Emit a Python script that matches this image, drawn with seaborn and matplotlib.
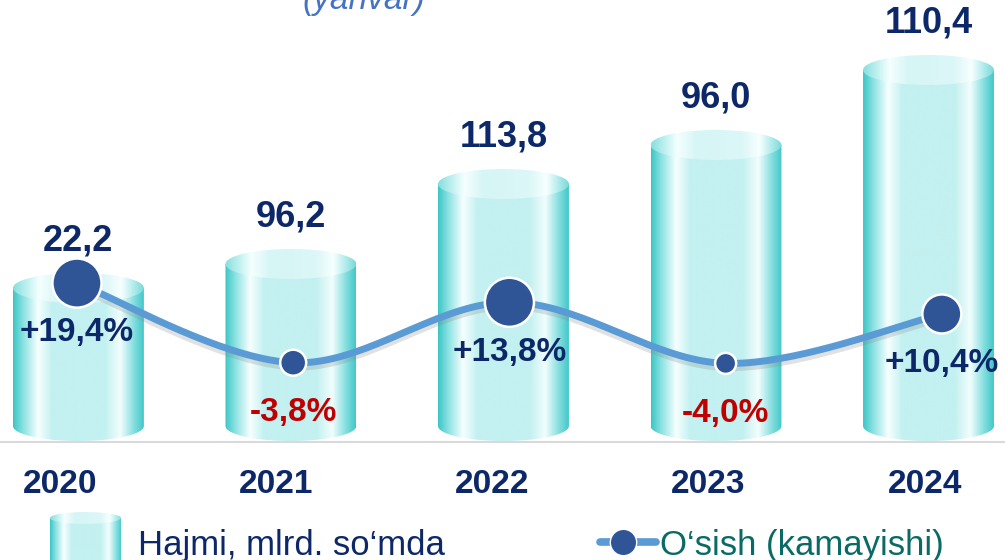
import numpy as np
import pandas as pd
import matplotlib.pyplot as plt
import seaborn as sns
from matplotlib.colors import LinearSegmentedColormap
from matplotlib.patches import Polygon, Ellipse
from matplotlib.lines import Line2D
import matplotlib.patheffects as pe

# Data
years = ['2020', '2021', '2022', '2023', '2024']
volume = [22.2, 96.2, 113.8, 96.0, 110.4]          # printed values, mlrd. so'm
bar_heights = [138, 162, 242, 281, 356]            # drawn cylinder heights (pictorial, not to scale)
growth = [19.4, -3.8, 13.8, -4.0, 10.4]            # O'sish (kamayishi), %

# Styles
NAVY = '#0D2869'
RED = '#C00000'
LINE_BLUE = '#5B9BD5'
DOT_BLUE = '#2F5597'
TEAL_TEXT = '#0A6B66'
BAR_W = 0.616
RY = 15
marker_area = [1250, 350, 1250, 230, 790]

sns.set_theme(style='white')
plt.rcParams['font.family'] = ['Liberation Sans', 'DejaVu Sans']

body_cmap = LinearSegmentedColormap.from_list('body', [
    (0.0, '#3CC6C6'), (0.07, '#84DFDF'), (0.19, '#F7FFFF'), (0.3, '#C3F0F0'),
    (0.7, '#C3F0F0'), (0.82, '#F2FDFD'), (0.92, '#8AE0E0'), (1.0, '#42C8C8')])
top_cmap = LinearSegmentedColormap.from_list('top', [
    (0.0, '#86DFDF'), (0.2, '#F5FFFF'), (0.35, '#D6F5F5'), (0.7, '#DCF7F7'),
    (0.83, '#F7FFFF'), (1.0, '#78DADA')])
grad = np.linspace(0, 1, 256).reshape(1, -1)


def cylinder(ax, xc, w, h, ry, bottom=0):
    x0, x1 = xc - w / 2, xc + w / 2
    t = np.linspace(np.pi, 2 * np.pi, 60)
    arc = np.column_stack([xc + w / 2 * np.cos(t), bottom + ry * np.sin(t)])
    verts = np.vstack([[x0, h], [x0, bottom], arc, [x1, bottom], [x1, h]])
    body = Polygon(verts, closed=True, fc='none', ec='none')
    ax.add_patch(body)
    im = ax.imshow(grad, cmap=body_cmap, extent=[x0, x1, bottom - ry, h],
                   aspect='auto', origin='lower', zorder=2)
    im.set_clip_path(body)
    top = Ellipse((xc, h), w, 2 * ry, fc='none', ec='none')
    ax.add_patch(top)
    im2 = ax.imshow(grad, cmap=top_cmap, extent=[x0, x1, h - ry, h + ry],
                    aspect='auto', origin='lower', zorder=3)
    im2.set_clip_path(top)


def smooth(x, y, n=40):
    p = np.column_stack([x, y]).astype(float)
    pad = np.vstack([p[0], p, p[-1]])
    t = np.linspace(0, 1, n)[:, None]
    out = []
    for k in range(len(p) - 1):
        p0, p1, p2, p3 = pad[k], pad[k + 1], pad[k + 2], pad[k + 3]
        c1 = p1 + (p2 - p0) / 6
        c2 = p2 - (p3 - p1) / 6
        seg = (1 - t) ** 3 * p1 + 3 * (1 - t) ** 2 * t * c1 + 3 * (1 - t) * t ** 2 * c2 + t ** 3 * p2
        out.append(seg if k == 0 else seg[1:])
    return np.vstack(out)


fig = plt.figure(figsize=(10.05, 5.6), dpi=100)
ax = fig.add_axes([0, 0, 1, 1])
ax.axis('off')

xpos = np.arange(len(years))
for i, h in enumerate(bar_heights):
    cylinder(ax, xpos[i], BAR_W, h, RY)
    ax.annotate(f'{volume[i]:.1f}'.replace('.', ','), (xpos[i], h), xytext=(0, 27),
                textcoords='offset points', ha='center', va='baseline',
                fontsize=26, fontweight='bold', color=NAVY, zorder=5)

ax.axhline(-16, color='#D9D9D9', lw=1.5, zorder=1)
ax.set_xlim(-0.369, 4.36)
ax.set_ylim(-134, 426)

# growth line on its own overlay axes (slightly different category spacing, as in the original)
ax2 = fig.add_axes([0, 0, 1, 1], label='growth')
ax2.patch.set_alpha(0)
ax2.axis('off')
df = pd.DataFrame({'year': years, 'x': xpos, 'growth': growth})
curve = smooth(df['x'], df['growth'])
sns.lineplot(x=curve[:, 0], y=curve[:, 1], ax=ax2, color=LINE_BLUE, lw=5, sort=False,
             path_effects=[pe.SimpleLineShadow(offset=(0, -3), shadow_color='#888888', alpha=0.25),
                           pe.Normal()])
sns.scatterplot(data=df, x='x', y='growth', size='year',
                sizes=dict(zip(years, marker_area)), color=DOT_BLUE,
                edgecolor='white', linewidth=1.8, legend=False, ax=ax2, zorder=4)
for _, r in df.iterrows():
    g = r['growth']
    ax2.annotate(f'{g:+.1f}%'.replace('.', ','), (r['x'], g), xytext=(0, -42),
                 textcoords='offset points', ha='center', va='baseline',
                 fontsize=24, fontweight='bold', color=RED if g < 0 else NAVY, zorder=6)
    ax2.text(r['x'] - 0.079, 0.1196, r['year'], transform=ax2.get_xaxis_transform(),
             ha='center', va='baseline', fontsize=24, fontweight='bold', color=NAVY)
ax2.set_xlim(-0.356, 4.292)
ax2.set_ylim(-61.3, 101.9)

# subtitle (cut at top edge in the original)
fig.text(364 / 1005, 1 - 9 / 560, '(yanvar)', ha='center', va='baseline',
         fontsize=24, style='italic', color='#4472C4')

# legend
axl = fig.add_axes([50 / 1005, 0, 71 / 1005, 48 / 560])
axl.axis('off')
cylinder(axl, 35.5, 71, 42, 6, bottom=-10)
axl.set_xlim(0, 71)
axl.set_ylim(0, 48)
fig.text(138 / 1005, 5 / 560, 'Hajmi, mlrd. so\u2018mda', ha='left', va='baseline',
         fontsize=25, color=NAVY)
fig.add_artist(Line2D([600 / 1005, 656 / 1005], [18 / 560, 18 / 560], transform=fig.transFigure,
                      color=LINE_BLUE, lw=5.5, solid_capstyle='round'))
fig.add_artist(Line2D([623 / 1005], [18 / 560], transform=fig.transFigure, marker='o',
                      ms=19, mfc=DOT_BLUE, mec='white', mew=1, ls='none'))
fig.text(660 / 1005, 5 / 560, 'O\u2018sish (kamayishi)', ha='left', va='baseline',
         fontsize=25, color=TEAL_TEXT)

fig.savefig('out.png', dpi=100)
